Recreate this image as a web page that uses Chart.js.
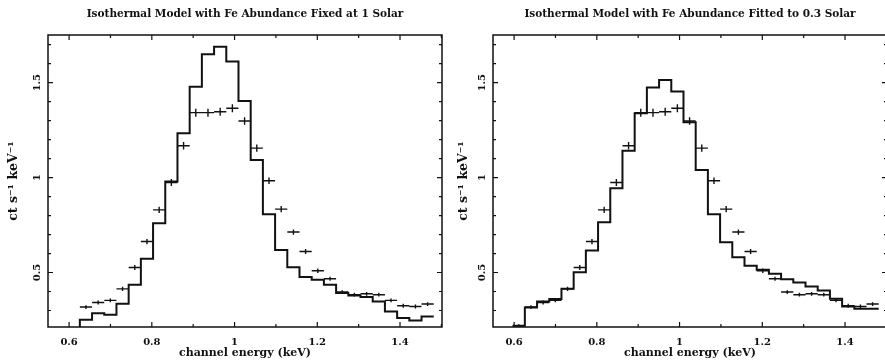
<!DOCTYPE html>
<html><head><meta charset="utf-8">
<script src="https://cdn.jsdelivr.net/npm/chart.js@4.4.1/dist/chart.umd.min.js"></script>
<style>
html,body{margin:0;padding:0;background:#fff;overflow:hidden;width:885px;height:360px;}
#wrap{position:relative;width:885px;height:360px;overflow:hidden;background:#fff;}
#c1{position:absolute;left:0;top:0;}
#c2{position:absolute;left:450px;top:0;}
</style></head><body>
<div id="wrap"><canvas id="c1" width="450" height="360"></canvas><canvas id="c2" width="445" height="360"></canvas></div>
<script>
// channel energy bin edges (keV)
const binEdges = [0.5965, 0.626, 0.6555, 0.685, 0.7145, 0.744, 0.7735, 0.803, 0.8325, 0.862,
  0.8915, 0.921, 0.9505, 0.98, 1.0095, 1.039, 1.0685, 1.098, 1.1275, 1.157,
  1.1865, 1.216, 1.2455, 1.275, 1.3045, 1.334, 1.3635, 1.393, 1.4225, 1.452, 1.4815];
// observed count rate (ct s^-1 keV^-1) per bin and its error
const countRate = [0.219, 0.318, 0.342, 0.353, 0.414, 0.526, 0.663, 0.830, 0.974, 1.168,
  1.342, 1.342, 1.347, 1.365, 1.298, 1.155, 0.983, 0.834, 0.713, 0.611,
  0.509, 0.467, 0.397, 0.383, 0.388, 0.383, 0.353, 0.325, 0.321, 0.334];
const countErr = [0.008, 0.010, 0.010, 0.010, 0.011, 0.013, 0.014, 0.016, 0.018, 0.020,
  0.021, 0.021, 0.021, 0.021, 0.020, 0.019, 0.017, 0.016, 0.014, 0.013,
  0.012, 0.011, 0.010, 0.010, 0.010, 0.010, 0.010, 0.010, 0.010, 0.010];
// model: Fe abundance fixed at 1 solar
const modelFixed = [0.20, 0.251, 0.286, 0.277, 0.335, 0.435, 0.572, 0.760, 0.979, 1.234,
  1.479, 1.649, 1.689, 1.611, 1.404, 1.093, 0.807, 0.619, 0.528, 0.476,
  0.462, 0.435, 0.392, 0.379, 0.371, 0.347, 0.295, 0.260, 0.247, 0.268];
// model: Fe abundance fitted to 0.3 solar
const modelFitted = [0.219, 0.316, 0.347, 0.360, 0.414, 0.502, 0.616, 0.765, 0.944, 1.141,
  1.339, 1.474, 1.514, 1.453, 1.292, 1.040, 0.807, 0.660, 0.581, 0.535,
  0.514, 0.493, 0.465, 0.447, 0.426, 0.405, 0.362, 0.321, 0.309, 0.309];

const xMajorTicks = [0.6, 0.8, 1.0, 1.2, 1.4];
const xMinorTicks = [0.7, 0.9, 1.1, 1.3, 1.5];
const xTickLabels = ['0.6', '0.8', '1', '1.2', '1.4'];
const yMajorTicks = [0.5, 1.0, 1.5];
const yMinorTicks = [0.3, 0.4, 0.6, 0.7, 0.8, 0.9, 1.1, 1.2, 1.3, 1.4, 1.6, 1.7];
const yTickLabels = ['0.5', '1', '1.5'];
const panelTitles = ['Isothermal Model with Fe Abundance Fixed at 1 Solar',
                     'Isothermal Model with Fe Abundance Fitted to 0.3 Solar'];
const xTitle = 'channel energy (keV)';
const yTitle = 'ct s\u207B\u00B9 keV\u207B\u00B9';

const INK = '#111';
const FONT = 'DejaVu Serif';

function stepPoints(model) {
  const pts = model.map((v, k) => ({x: binEdges[k], y: v}));
  pts.push({x: binEdges[model.length], y: model[model.length - 1]});
  return pts;
}
function crossPoints(start) {
  const pts = [];
  for (let k = start; k < countRate.length; k++) {
    const lo = binEdges[k], hi = binEdges[k + 1], c = (lo + hi) / 2;
    const y = countRate[k], e = countErr[k];
    pts.push({x: lo, y: y}, {x: hi, y: y}, {x: hi, y: null});
    pts.push({x: c, y: y - e}, {x: c, y: y + e}, {x: c, y: null});
  }
  return pts;
}

const framePlugin = {
  id: 'frame',
  afterDraw(chart, args, opts) {
    const ctx = chart.ctx, a = chart.chartArea;
    const xs = chart.scales.x, ys = chart.scales.y;
    ctx.save();
    ctx.strokeStyle = INK;
    ctx.lineWidth = 1.5;
    ctx.strokeRect(a.left, a.top, a.right - a.left, a.bottom - a.top);
    ctx.lineWidth = 1.2;
    ctx.beginPath();
    const tx = (vals, len) => vals.forEach(v => {
      const p = xs.getPixelForValue(v);
      ctx.moveTo(p, a.bottom); ctx.lineTo(p, a.bottom - len);
      ctx.moveTo(p, a.top); ctx.lineTo(p, a.top + len);
    });
    const ty = (vals, len) => vals.forEach(v => {
      const p = ys.getPixelForValue(v);
      ctx.moveTo(a.left, p); ctx.lineTo(a.left + len, p);
      ctx.moveTo(a.right, p); ctx.lineTo(a.right - len, p);
    });
    tx(xMajorTicks, 5); tx(xMinorTicks, 3);
    ty(yMajorTicks, 5); ty(yMinorTicks, 3);
    ctx.stroke();
    ctx.fillStyle = INK;
    ctx.font = 'bold 10.5px "' + FONT + '"';
    ctx.textAlign = 'center';
    ctx.textBaseline = 'middle';
    ctx.fillText(opts.title, (a.left + a.right) / 2, 14);
    ctx.restore();
  }
};

function makeChart(id, model, dataStart, title, yWidth) {
  const tickFont = {family: FONT, weight: 'bold', size: 10};
  return new Chart(document.getElementById(id), {
    type: 'line',
    data: {
      datasets: [
        {data: stepPoints(model), stepped: 'before', borderColor: INK, borderWidth: 2,
         pointRadius: 0, fill: false, spanGaps: false},
        {data: crossPoints(dataStart), borderColor: INK, borderWidth: 1.4,
         pointRadius: 0, fill: false, spanGaps: false, tension: 0}
      ]
    },
    options: {
      responsive: false, animation: false, devicePixelRatio: 1,
      layout: {padding: {top: 35, right: 8, left: 0, bottom: 0}},
      plugins: {legend: {display: false}, tooltip: {enabled: false}, title: {display: false},
                frame: {title: title}},
      scales: {
        x: {
          type: 'linear', min: 0.549, max: 1.5015,
          grid: {display: false}, border: {display: false},
          afterBuildTicks: s => { s.ticks = xMajorTicks.map(v => ({value: v})); },
          afterFit: s => { s.height = 33; },
          ticks: {padding: 1, maxRotation: 0, autoSkip: false, color: INK, font: tickFont,
                  callback: (v, i) => xTickLabels[i]},
          title: {display: true, text: xTitle, color: INK,
                  font: {family: FONT, weight: 'bold', size: 11},
                  padding: {top: 0, bottom: 0}}
        },
        y: {
          type: 'linear', min: 0.213, max: 1.751,
          grid: {display: false}, border: {display: false},
          afterBuildTicks: s => { s.ticks = yMajorTicks.map(v => ({value: v})); },
          afterFit: s => { s.width = yWidth; },
          ticks: {padding: -6.5, minRotation: 90, maxRotation: 90, crossAlign: 'center',
                  autoSkip: false, color: INK, font: tickFont,
                  callback: (v, i) => yTickLabels[i]},
          title: {display: true, text: yTitle, color: INK,
                  font: {family: FONT, weight: 'bold', size: 12.5},
                  padding: {top: 6, bottom: 0}}
        }
      }
    },
    plugins: [framePlugin]
  });
}

makeChart('c1', modelFixed, 1, panelTitles[0], 48);
makeChart('c2', modelFitted, 0, panelTitles[1], 43);
</script>
</body></html>
